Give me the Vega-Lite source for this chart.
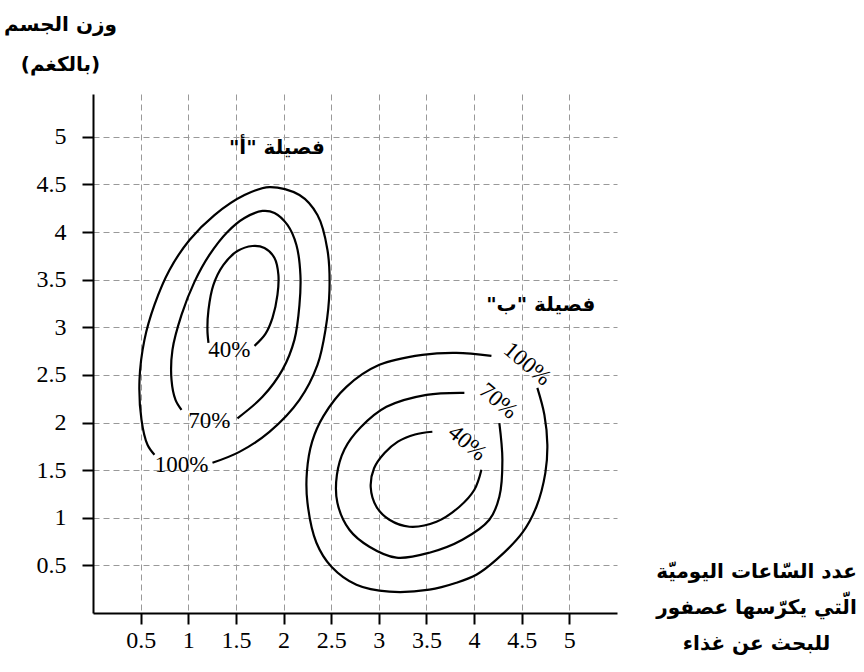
{
  "$schema": "https://vega.github.io/schema/vega-lite/v6.json",
  "width": 524,
  "height": 519,
  "autosize": {"type": "none"},
  "padding": {"left": 93, "top": 94, "right": 247, "bottom": 59},
  "background": "white",
  "config": {"view": {"stroke": null}},
  "datasets": {
    "curves": [
      {"curve": "A100", "seq": 1, "x": 1.254, "y": 1.577},
      {"curve": "A100", "seq": 2, "x": 1.537, "y": 1.692},
      {"curve": "A100", "seq": 3, "x": 1.852, "y": 1.902},
      {"curve": "A100", "seq": 4, "x": 2.167, "y": 2.238},
      {"curve": "A100", "seq": 5, "x": 2.356, "y": 2.605},
      {"curve": "A100", "seq": 6, "x": 2.44, "y": 2.973},
      {"curve": "A100", "seq": 7, "x": 2.482, "y": 3.392},
      {"curve": "A100", "seq": 8, "x": 2.461, "y": 3.812},
      {"curve": "A100", "seq": 9, "x": 2.356, "y": 4.179},
      {"curve": "A100", "seq": 10, "x": 2.167, "y": 4.389},
      {"curve": "A100", "seq": 11, "x": 1.852, "y": 4.473},
      {"curve": "A100", "seq": 12, "x": 1.59, "y": 4.389},
      {"curve": "A100", "seq": 13, "x": 1.275, "y": 4.179},
      {"curve": "A100", "seq": 14, "x": 1.013, "y": 3.917},
      {"curve": "A100", "seq": 15, "x": 0.803, "y": 3.602},
      {"curve": "A100", "seq": 16, "x": 0.645, "y": 3.235},
      {"curve": "A100", "seq": 17, "x": 0.54, "y": 2.868},
      {"curve": "A100", "seq": 18, "x": 0.488, "y": 2.448},
      {"curve": "A100", "seq": 19, "x": 0.509, "y": 2.028},
      {"curve": "A100", "seq": 20, "x": 0.572, "y": 1.766},
      {"curve": "A100", "seq": 21, "x": 0.645, "y": 1.661},
      {"curve": "A70", "seq": 1, "x": 1.516, "y": 2.045},
      {"curve": "A70", "seq": 2, "x": 1.779, "y": 2.27},
      {"curve": "A70", "seq": 3, "x": 1.988, "y": 2.553},
      {"curve": "A70", "seq": 4, "x": 2.114, "y": 2.868},
      {"curve": "A70", "seq": 5, "x": 2.167, "y": 3.235},
      {"curve": "A70", "seq": 6, "x": 2.177, "y": 3.55},
      {"curve": "A70", "seq": 7, "x": 2.135, "y": 3.865},
      {"curve": "A70", "seq": 8, "x": 2.041, "y": 4.075},
      {"curve": "A70", "seq": 9, "x": 1.905, "y": 4.201},
      {"curve": "A70", "seq": 10, "x": 1.779, "y": 4.222},
      {"curve": "A70", "seq": 11, "x": 1.59, "y": 4.148},
      {"curve": "A70", "seq": 12, "x": 1.411, "y": 4.001},
      {"curve": "A70", "seq": 13, "x": 1.222, "y": 3.76},
      {"curve": "A70", "seq": 14, "x": 1.065, "y": 3.477},
      {"curve": "A70", "seq": 15, "x": 0.929, "y": 3.13},
      {"curve": "A70", "seq": 16, "x": 0.834, "y": 2.763},
      {"curve": "A70", "seq": 17, "x": 0.824, "y": 2.448},
      {"curve": "A70", "seq": 18, "x": 0.866, "y": 2.238},
      {"curve": "A70", "seq": 19, "x": 0.929, "y": 2.133},
      {"curve": "A40", "seq": 1, "x": 1.695, "y": 2.805},
      {"curve": "A40", "seq": 2, "x": 1.81, "y": 2.931},
      {"curve": "A40", "seq": 3, "x": 1.884, "y": 3.099},
      {"curve": "A40", "seq": 4, "x": 1.936, "y": 3.34},
      {"curve": "A40", "seq": 5, "x": 1.946, "y": 3.55},
      {"curve": "A40", "seq": 6, "x": 1.905, "y": 3.728},
      {"curve": "A40", "seq": 7, "x": 1.8, "y": 3.833},
      {"curve": "A40", "seq": 8, "x": 1.674, "y": 3.854},
      {"curve": "A40", "seq": 9, "x": 1.516, "y": 3.801},
      {"curve": "A40", "seq": 10, "x": 1.369, "y": 3.655},
      {"curve": "A40", "seq": 11, "x": 1.264, "y": 3.445},
      {"curve": "A40", "seq": 12, "x": 1.212, "y": 3.183},
      {"curve": "A40", "seq": 13, "x": 1.201, "y": 2.973},
      {"curve": "A40", "seq": 14, "x": 1.212, "y": 2.837},
      {"curve": "B100", "seq": 1, "x": 4.664, "y": 2.364},
      {"curve": "B100", "seq": 2, "x": 4.738, "y": 2.081},
      {"curve": "B100", "seq": 3, "x": 4.769, "y": 1.766},
      {"curve": "B100", "seq": 4, "x": 4.748, "y": 1.472},
      {"curve": "B100", "seq": 5, "x": 4.654, "y": 1.116},
      {"curve": "B100", "seq": 6, "x": 4.507, "y": 0.843},
      {"curve": "B100", "seq": 7, "x": 4.234, "y": 0.56},
      {"curve": "B100", "seq": 8, "x": 4.024, "y": 0.402},
      {"curve": "B100", "seq": 9, "x": 3.814, "y": 0.318},
      {"curve": "B100", "seq": 10, "x": 3.531, "y": 0.245},
      {"curve": "B100", "seq": 11, "x": 3.111, "y": 0.224},
      {"curve": "B100", "seq": 12, "x": 2.765, "y": 0.297},
      {"curve": "B100", "seq": 13, "x": 2.503, "y": 0.486},
      {"curve": "B100", "seq": 14, "x": 2.345, "y": 0.738},
      {"curve": "B100", "seq": 15, "x": 2.251, "y": 1.158},
      {"curve": "B100", "seq": 16, "x": 2.245, "y": 1.48},
      {"curve": "B100", "seq": 17, "x": 2.3, "y": 1.8},
      {"curve": "B100", "seq": 18, "x": 2.42, "y": 2.07},
      {"curve": "B100", "seq": 19, "x": 2.66, "y": 2.375},
      {"curve": "B100", "seq": 20, "x": 3.006, "y": 2.606},
      {"curve": "B100", "seq": 21, "x": 3.457, "y": 2.711},
      {"curve": "B100", "seq": 22, "x": 3.814, "y": 2.732},
      {"curve": "B100", "seq": 23, "x": 4.182, "y": 2.7},
      {"curve": "B70", "seq": 1, "x": 4.265, "y": 1.993},
      {"curve": "B70", "seq": 2, "x": 4.297, "y": 1.609},
      {"curve": "B70", "seq": 3, "x": 4.265, "y": 1.22},
      {"curve": "B70", "seq": 4, "x": 4.16, "y": 0.979},
      {"curve": "B70", "seq": 5, "x": 3.877, "y": 0.769},
      {"curve": "B70", "seq": 6, "x": 3.531, "y": 0.633},
      {"curve": "B70", "seq": 7, "x": 3.185, "y": 0.581},
      {"curve": "B70", "seq": 8, "x": 2.901, "y": 0.696},
      {"curve": "B70", "seq": 9, "x": 2.691, "y": 0.874},
      {"curve": "B70", "seq": 10, "x": 2.565, "y": 1.158},
      {"curve": "B70", "seq": 11, "x": 2.56, "y": 1.45},
      {"curve": "B70", "seq": 12, "x": 2.64, "y": 1.72},
      {"curve": "B70", "seq": 13, "x": 2.81, "y": 1.95},
      {"curve": "B70", "seq": 14, "x": 3.08, "y": 2.165},
      {"curve": "B70", "seq": 15, "x": 3.5, "y": 2.291},
      {"curve": "B70", "seq": 16, "x": 3.898, "y": 2.312},
      {"curve": "B40", "seq": 1, "x": 4.077, "y": 1.504},
      {"curve": "B40", "seq": 2, "x": 4.003, "y": 1.294},
      {"curve": "B40", "seq": 3, "x": 3.846, "y": 1.116},
      {"curve": "B40", "seq": 4, "x": 3.605, "y": 0.958},
      {"curve": "B40", "seq": 5, "x": 3.321, "y": 0.906},
      {"curve": "B40", "seq": 6, "x": 3.111, "y": 0.979},
      {"curve": "B40", "seq": 7, "x": 2.975, "y": 1.116},
      {"curve": "B40", "seq": 8, "x": 2.915, "y": 1.32},
      {"curve": "B40", "seq": 9, "x": 2.95, "y": 1.52},
      {"curve": "B40", "seq": 10, "x": 3.06, "y": 1.68},
      {"curve": "B40", "seq": 11, "x": 3.2, "y": 1.8},
      {"curve": "B40", "seq": 12, "x": 3.38, "y": 1.875},
      {"curve": "B40", "seq": 13, "x": 3.562, "y": 1.903}
    ],
    "labels": [
      {"cluster": "A", "text": "40%", "x": 1.432, "y": 2.763},
      {"cluster": "A", "text": "70%", "x": 1.222, "y": 2.018},
      {"cluster": "A", "text": "100%", "x": 0.929, "y": 1.557},
      {"cluster": "B", "text": "100%", "x": 4.559, "y": 2.615},
      {"cluster": "B", "text": "70%", "x": 4.255, "y": 2.227},
      {"cluster": "B", "text": "40%", "x": 3.929, "y": 1.786}
    ],
    "names": [
      {"text": "فصيلة \"أ\"‏", "x": 1.93, "y": 4.88},
      {"text": "فصيلة \"ب\"‏", "x": 4.7, "y": 3.23}
    ]
  },
  "layer": [
    {
      "data": {"name": "curves"},
      "mark": {"type": "line", "interpolate": "catmull-rom", "color": "black", "strokeWidth": 2.2},
      "encoding": {
        "x": {
          "field": "x", "type": "quantitative",
          "scale": {"domain": [0, 5.5], "nice": false, "zero": false},
          "axis": {
            "values": [0.5, 1, 1.5, 2, 2.5, 3, 3.5, 4, 4.5, 5],
            "format": "~g",
            "grid": true, "gridColor": "#999999", "gridDash": [6, 4], "gridWidth": 1,
            "domainColor": "black", "domainWidth": 2,
            "tickColor": "black", "tickWidth": 2, "tickSize": 11,
            "labelFont": "Liberation Serif", "labelFontSize": 24, "labelColor": "black",
            "labelPadding": 4, "labelFlush": false, "labelOverlap": false,
            "title": ["عدد السّاعات اليوميّة", "الّتي يكرّسها عصفور", "للبحث عن غذاء"],
            "titleFont": "DejaVu Sans", "titleFontSize": 20, "titleFontWeight": "bold", "titleColor": "black",
            "titleX": 663, "titleY": -52, "titleAlign": "center", "titleBaseline": "top", "titleAngle": 0,
            "titleLineHeight": 36
          }
        },
        "y": {
          "field": "y", "type": "quantitative",
          "scale": {"domain": [0, 5.45], "nice": false, "zero": false},
          "axis": {
            "values": [0.5, 1, 1.5, 2, 2.5, 3, 3.5, 4, 4.5, 5],
            "format": "~g",
            "grid": true, "gridColor": "#999999", "gridDash": [6, 4], "gridWidth": 1,
            "domainColor": "black", "domainWidth": 2,
            "tickColor": "black", "tickWidth": 2, "tickSize": 11,
            "labelFont": "Liberation Serif", "labelFontSize": 24, "labelColor": "black",
            "labelPadding": 16, "labelFlush": false, "labelOverlap": false,
            "title": ["وزن الجسم", "(بالكغم)"],
            "titleFont": "DejaVu Sans", "titleFontSize": 20, "titleFontWeight": "bold", "titleColor": "black",
            "titleX": -33, "titleY": -80, "titleAlign": "center", "titleBaseline": "top", "titleAngle": 0,
            "titleLineHeight": 40
          }
        },
        "detail": {"field": "curve"},
        "order": {"field": "seq", "type": "quantitative"}
      }
    },
    {
      "data": {"name": "labels"},
      "transform": [{"filter": "datum.cluster === 'A'"}],
      "mark": {"type": "text", "font": "Liberation Serif", "fontSize": 23, "align": "center", "baseline": "middle", "color": "black"},
      "encoding": {
        "x": {"field": "x", "type": "quantitative"},
        "y": {"field": "y", "type": "quantitative"},
        "text": {"field": "text"}
      }
    },
    {
      "data": {"name": "labels"},
      "transform": [{"filter": "datum.cluster === 'B'"}],
      "mark": {"type": "text", "font": "Liberation Serif", "fontSize": 23, "align": "center", "baseline": "middle", "angle": 40, "color": "black"},
      "encoding": {
        "x": {"field": "x", "type": "quantitative"},
        "y": {"field": "y", "type": "quantitative"},
        "text": {"field": "text"}
      }
    },
    {
      "data": {"name": "names"},
      "mark": {"type": "text", "font": "DejaVu Sans", "fontSize": 20, "fontWeight": "bold", "align": "center", "baseline": "middle", "color": "black"},
      "encoding": {
        "x": {"field": "x", "type": "quantitative"},
        "y": {"field": "y", "type": "quantitative"},
        "text": {"field": "text"}
      }
    }
  ]
}
